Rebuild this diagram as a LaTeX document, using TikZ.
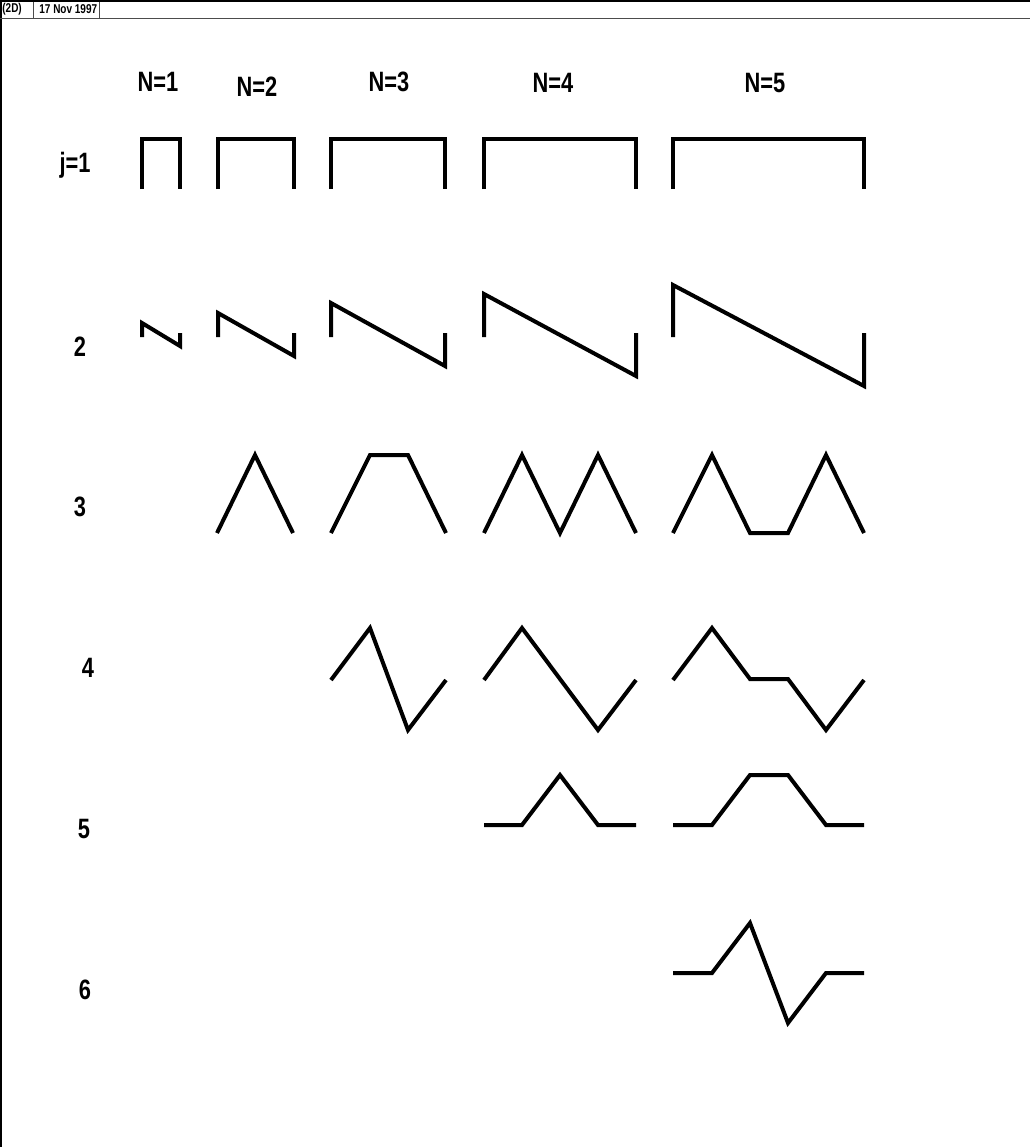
\documentclass[tikz,border=0pt]{standalone}
\usepackage{fontspec}
\newfontfamily\narrowbold[FakeStretch=0.78]{Liberation Sans Bold}
\begin{document}
\begin{tikzpicture}[x=0.5pt,y=-0.5pt,
  curve/.style={line width=2pt,line join=miter,line cap=butt},
  frame/.style={line width=1pt},
  sep/.style={line width=0.5pt,draw=black!70},
  lab/.style={font=\narrowbold\fontsize{14}{16}\selectfont,inner sep=0pt,anchor=center},
  hdr/.style={font=\narrowbold\fontsize{6.4}{7}\selectfont,inner sep=0pt,anchor=west}]
\useasboundingbox (0,0) rectangle (1030,1147);
\fill[white] (0,0) rectangle (1030,1147);
% frame and header
\draw[frame] (1,0) -- (1,1147);
\draw[frame] (0,1) -- (1030,1);
\draw[sep] (0,18) -- (1030,18);
\draw[sep] (33,2) -- (33,18);
\draw[sep] (99,2) -- (99,18);
\node[hdr] (h1) at (2,9.5) {(2D)};
\node[hdr] (h2) at (39,9.5) {17 Nov 1997};
% column labels
\node[lab] (n1) at (158,82) {N=1};
\node[lab] (n2) at (257,87) {N=2};
\node[lab] (n3) at (389,82) {N=3};
\node[lab] (n4) at (553,83) {N=4};
\node[lab] (n5) at (765,83) {N=5};
% row labels
\node[lab] (r1) at (75,165) {j=1};
\node[lab] (r2) at (80,347) {2};
\node[lab] (r3) at (80,507) {3};
\node[lab] (r4) at (88,668) {4};
\node[lab] (r5) at (84,829) {5};
\node[lab] (r6) at (85,990) {6};
% j=1
\draw[curve] (142,189) -- (142,139) -- (180,139) -- (180,189);
\draw[curve] (218,189) -- (218,139) -- (294,139) -- (294,189);
\draw[curve] (331,189) -- (331,139) -- (445,139) -- (445,189);
\draw[curve] (484,189) -- (484,139) -- (636,139) -- (636,189);
\draw[curve] (673,189) -- (673,139) -- (864,139) -- (864,189);
% j=2
\draw[curve] (142,337) -- (142,323) -- (180,346) -- (180,333);
\draw[curve] (218,337) -- (218,313) -- (294,356) -- (294,333);
\draw[curve] (331,337) -- (331,303) -- (445,366) -- (445,333);
\draw[curve] (484,337) -- (484,294) -- (636,376) -- (636,333);
\draw[curve] (673,337) -- (673,285) -- (864,386) -- (864,333);
% j=3
\draw[curve] (217,533) -- (255,455) -- (293,533);
\draw[curve] (331,533) -- (370,455) -- (408,455) -- (446,533);
\draw[curve] (484,533) -- (522,455) -- (560,533) -- (598,455) -- (636,533);
\draw[curve] (673,533) -- (712,455) -- (750,533) -- (788,533) -- (826,455) -- (864,533);
% j=4
\draw[curve] (331,680) -- (370,628) -- (408,730) -- (446,680);
\draw[curve] (484,680) -- (522,628) -- (598,730) -- (636,680);
\draw[curve] (673,680) -- (712,628) -- (750,679) -- (788,679) -- (826,730) -- (864,680);
% j=5
\draw[curve] (484,825) -- (522,825) -- (560,775) -- (598,825) -- (636,825);
\draw[curve] (673,825) -- (712,825) -- (750,775) -- (788,775) -- (826,825) -- (864,825);
% j=6
\draw[curve] (673,973) -- (712,973) -- (750,923) -- (788,1023) -- (826,973) -- (864,973);
\end{tikzpicture}
\end{document}
